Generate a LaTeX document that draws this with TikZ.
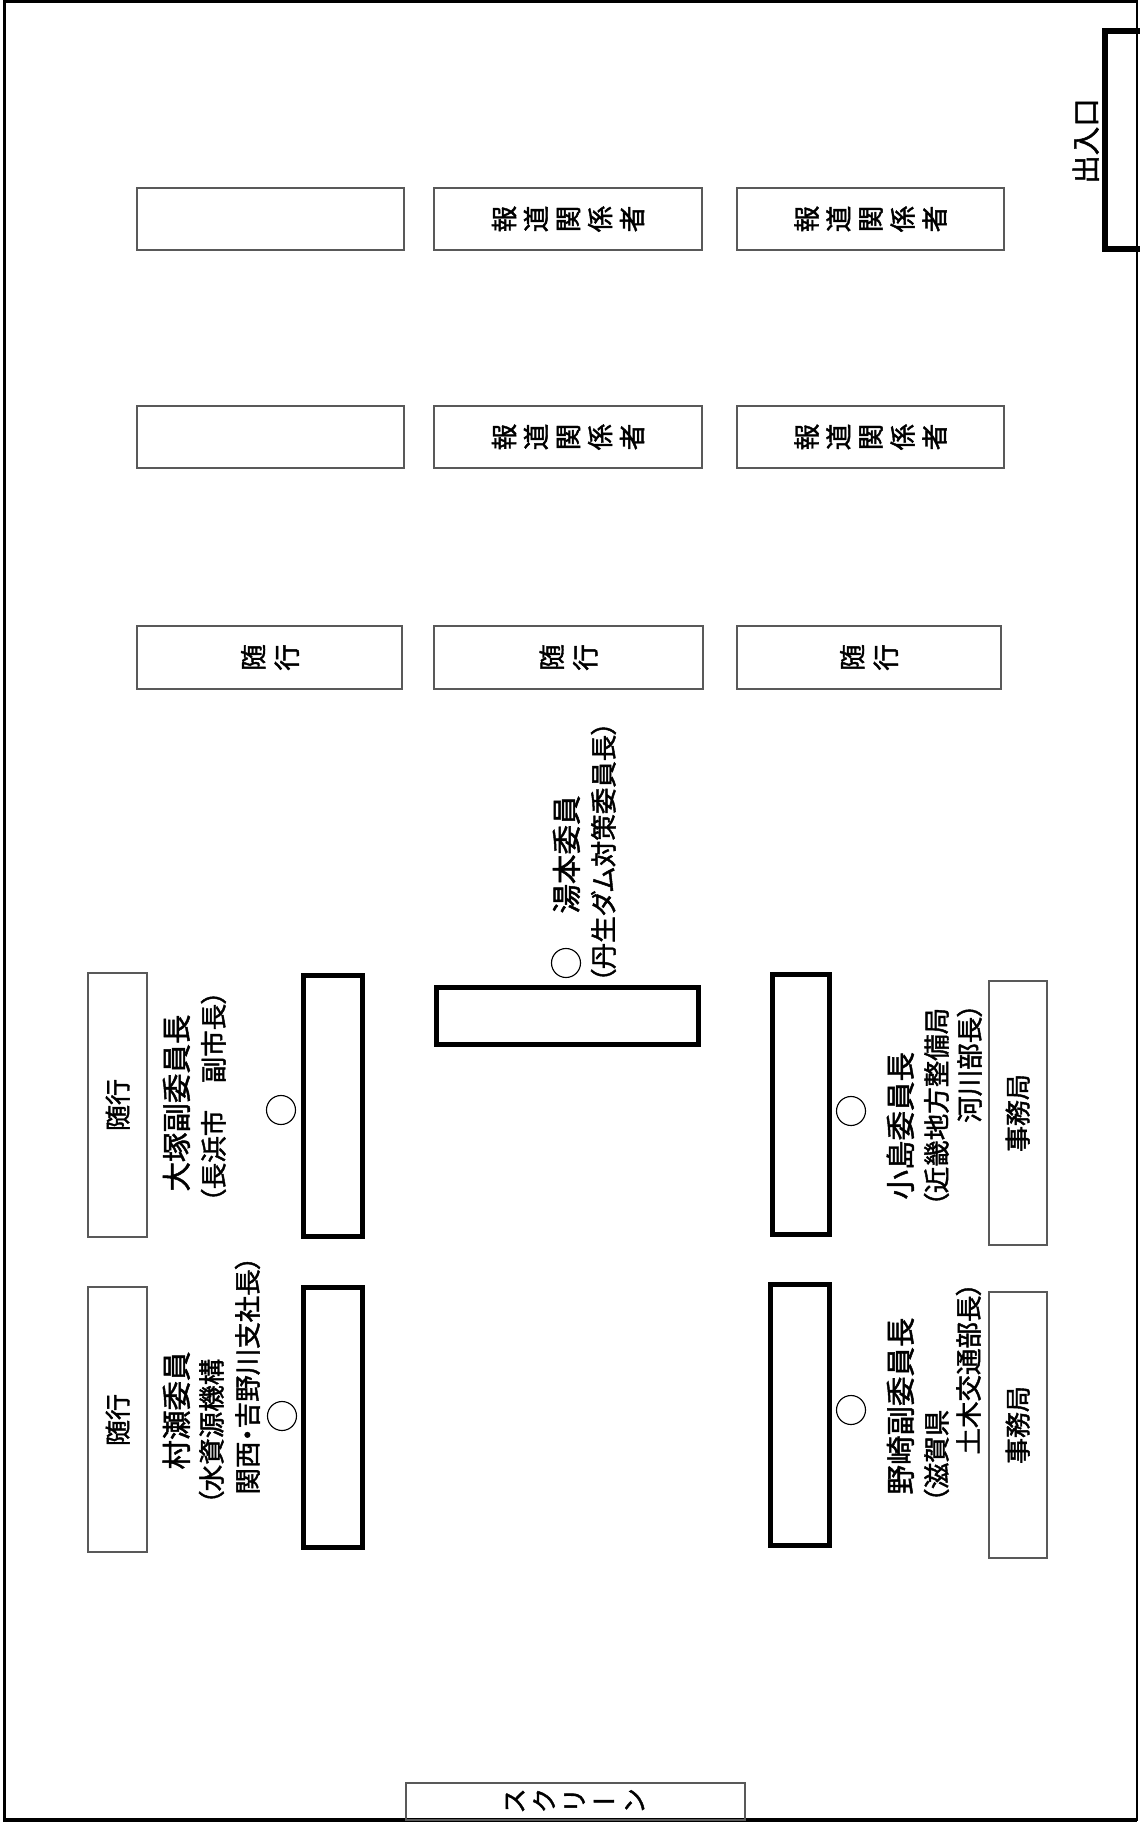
\documentclass[tikz,border=0pt]{standalone}
\usepackage{fontspec}
\setmainfont{Noto Sans CJK JP}[RawFeature={+palt}, FakeBold=1.6]
\newfontfamily\jpv{Noto Sans CJK JP}[RawFeature={+vert}, FakeBold=1.6]
\begin{document}
\begin{tikzpicture}[x=0.4pt,y=-0.4pt,
  thinbox/.style={draw=black!65, line width=0.65pt},
  tablebox/.style={draw=black, line width=2.3pt},
  seat/.style={circle, draw=black, line width=0.45pt, minimum size=11.6pt, inner sep=0pt},
  rot/.style={rotate=90, inner sep=0pt, text height=0.88em, text depth=0.12em},
  nameA/.style={rot, font=\fontsize{11.8}{13}\selectfont},
  nameB/.style={rot, font=\fontsize{10.6}{12}\selectfont},
  label/.style={rot, font=\fontsize{10.4}{12}\selectfont},
  stack/.style={rotate=90, inner sep=0pt, align=center, font=\fontsize{10.6}{12.8}\selectfont},
  stackb/.style={rotate=90, inner sep=0pt, align=center, font=\fontsize{10.6}{13.4}\selectfont}]
\useasboundingbox (0,0) rectangle (1139,1823);
\fill[white] (0,0) rectangle (1139,1823);
% room border
\draw[line width=1pt] (4.5,1.5) rectangle (1137,1820);
\draw[line width=1.3pt] (4.5,1.5) -- (4.5,1820) -- (1137,1820);
% entrance
\draw[line width=2.4pt] (1150,31) -- (1105,31) -- (1105,249) -- (1150,249);
\node[rot, font=\fontsize{11.4}{12}\selectfont] (entr) at (1087,141) {出入口};
% press / attendant boxes (rows)
\draw[thinbox] (137,188) rectangle (404,250);
\draw[thinbox] (434,188) rectangle (702,250);
\draw[thinbox] (737,188) rectangle (1004,250);
\draw[thinbox] (137,406) rectangle (404,468);
\draw[thinbox] (434,406) rectangle (702,468);
\draw[thinbox] (737,406) rectangle (1004,468);
\draw[thinbox] (137,626) rectangle (402,689);
\draw[thinbox] (434,626) rectangle (703,689);
\draw[thinbox] (737,626) rectangle (1001,689);
\node[stack] (p1) at (568,219) {報\\道\\関\\係\\者};
\node[stack] (p2) at (870.5,219) {報\\道\\関\\係\\者};
\node[stack] (p3) at (568,437) {報\\道\\関\\係\\者};
\node[stack] (p4) at (870.5,437) {報\\道\\関\\係\\者};
\node[stackb] (z1) at (270,657.5) {随\\行};
\node[stackb] (z2) at (568.5,657.5) {随\\行};
\node[stackb] (z3) at (869,657.5) {随\\行};
% tables
\draw[tablebox] (436.5,987.5) rectangle (698.5,1044.5);
\draw[tablebox] (303.5,975.5) rectangle (362.5,1236.5);
\draw[tablebox] (303.5,1287.5) rectangle (362.5,1547.5);
\draw[tablebox] (772.5,974.5) rectangle (829.5,1234.5);
\draw[tablebox] (770.5,1284.5) rectangle (829.5,1545.5);
% side boxes
\draw[thinbox] (88,973) rectangle (147,1237);
\draw[thinbox] (88,1287) rectangle (147,1552);
\draw[thinbox] (989,981) rectangle (1047,1245);
\draw[thinbox] (989,1292) rectangle (1047,1558);
\node[label] (zl1) at (118,1105) {随行};
\node[label] (zl2) at (118,1420) {随行};
\node[label] (j1) at (1018,1113) {事務局};
\node[label] (j2) at (1018,1425) {事務局};
% seats
\node[seat] (s1) at (281,1110) {};
\node[seat] (s2) at (282,1416) {};
\node[seat] (s3) at (851,1111) {};
\node[seat] (s4) at (851,1410) {};
\node[seat] (s5) at (566,963) {};
% names
\node[nameA, anchor=west] (otsuka1) at (178,1192) {大塚副委員長};
\node[nameB, anchor=west] (otsuka2) at (214,1203) {（長浜市　副市長）};
\node[nameA, anchor=west] (murase1) at (178,1470) {村瀬委員};
\node[nameB, anchor=west] (murase2) at (212,1505) {（水資源機構};
\node[nameB, anchor=west] (murase3) at (248,1495) {関西・吉野川支社長）};
\node[nameA, anchor=west] (kojima1) at (902,1200) {小島委員長};
\node[nameB, anchor=west] (kojima2) at (937,1207) {（近畿地方整備局};
\node[nameB, anchor=east] (kojima3) at (970,1003) {河川部長）};
\node[nameA, anchor=west] (nozaki1) at (902,1495) {野崎副委員長};
\node[nameB, anchor=west] (nozaki2) at (937,1503) {（滋賀県};
\node[nameB, anchor=west] (nozaki3) at (969,1455) {土木交通部長）};
\node[nameA, anchor=west] (yumoto1) at (568,914) {湯本委員};
\node[nameB, anchor=west] (yumoto2) at (604,983) {（丹生ダム対策委員長）};
% screen
\draw[thinbox] (406,1783) rectangle (745,1820);
\node[stack, font=\fontsize{10.2}{12}\selectfont] (scr) at (575,1801) {ス\\ク\\リ\\{\jpv ー}\\ン};
\end{tikzpicture}
\end{document}
